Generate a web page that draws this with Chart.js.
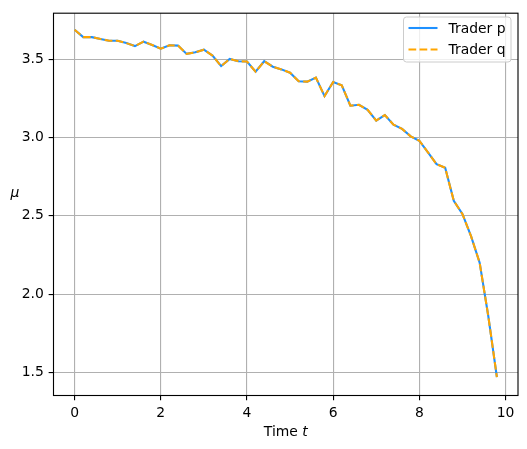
<!DOCTYPE html>
<html>
<head>
<meta charset="utf-8">
<script src="https://cdn.jsdelivr.net/npm/chart.js@4/dist/chart.umd.min.js"></script>
<style>
  html, body { margin: 0; padding: 0; background: #fff; }
  #wrap { width: 527px; height: 449px; }
</style>
</head>
<body>
<div id="wrap"><canvas id="chart" width="527" height="449"></canvas></div>
<script>
// time grid (t)
const times = [0.0, 0.2, 0.4, 0.6, 0.8, 1.0, 1.2, 1.4, 1.6, 1.8,
               2.0, 2.2, 2.4, 2.6, 2.8, 3.0, 3.2, 3.4, 3.6, 3.8,
               4.0, 4.2, 4.4, 4.6, 4.8, 5.0, 5.2, 5.4, 5.6, 5.8,
               6.0, 6.2, 6.4, 6.6, 6.8, 7.0, 7.2, 7.4, 7.6, 7.8,
               8.0, 8.2, 8.4, 8.6, 8.8, 9.0, 9.2, 9.4, 9.6, 9.8];

// mu estimates
const traderP = [3.689, 3.642, 3.642, 3.630, 3.619, 3.619, 3.604, 3.585, 3.613, 3.592,
                 3.568, 3.590, 3.588, 3.535, 3.545, 3.562, 3.524, 3.457, 3.503, 3.488,
                 3.486, 3.421, 3.488, 3.453, 3.436, 3.415, 3.360, 3.358, 3.383, 3.265,
                 3.355, 3.334, 3.204, 3.210, 3.178, 3.109, 3.144, 3.083, 3.056, 3.008,
                 2.980, 2.906, 2.830, 2.807, 2.596, 2.512, 2.370, 2.201, 1.860, 1.470];
const traderQ = [3.689, 3.642, 3.642, 3.630, 3.619, 3.619, 3.604, 3.585, 3.613, 3.592,
                 3.568, 3.590, 3.588, 3.535, 3.545, 3.562, 3.524, 3.457, 3.503, 3.488,
                 3.486, 3.421, 3.488, 3.453, 3.436, 3.415, 3.360, 3.358, 3.383, 3.265,
                 3.355, 3.334, 3.204, 3.210, 3.178, 3.109, 3.144, 3.083, 3.056, 3.008,
                 2.980, 2.906, 2.830, 2.807, 2.596, 2.512, 2.370, 2.201, 1.860, 1.470];

const xTicks = [0, 2, 4, 6, 8, 10];
const yTicks = [1.5, 2.0, 2.5, 3.0, 3.5];
const xRange = [-0.49, 10.29];
const yRange = [1.352, 3.795];

const FONT = 'DejaVu Sans';
const FS = 13.9;
const PT = 100 / 72; // matplotlib points -> px

// matplotlib-like frame, axis labels and legend
const decor = {
    id: 'decor',
    afterDraw(chart) {
        const ctx = chart.ctx;
        const a = chart.chartArea;
        ctx.save();
        ctx.strokeStyle = '#000';
        ctx.lineWidth = 0.8 * PT;
        ctx.strokeRect(a.left, a.top, a.right - a.left, a.bottom - a.top);

        ctx.fillStyle = '#000';
        ctx.textBaseline = 'middle';
        // x label: Time t
        ctx.font = FS + 'px "' + FONT + '"';
        const w1 = ctx.measureText('Time ').width;
        ctx.font = 'italic ' + FS + 'px "' + FONT + '"';
        const w2 = ctx.measureText('t').width;
        const cx = (a.left + a.right) / 2;
        let x0 = cx - (w1 + w2) / 2;
        ctx.textAlign = 'left';
        ctx.font = FS + 'px "' + FONT + '"';
        ctx.fillText('Time ', x0, 432);
        ctx.font = 'italic ' + FS + 'px "' + FONT + '"';
        ctx.fillText('t', x0 + w1, 432);
        // y label: mu
        ctx.textAlign = 'center';
        ctx.fillText('\u03bc', 15, 193);

        // legend
        const bx = 403.5, by = 17, bw = 107.5, bh = 45;
        ctx.beginPath();
        ctx.roundRect(bx, by, bw, bh, 3);
        ctx.fillStyle = 'rgba(255,255,255,0.8)';
        ctx.fill();
        ctx.strokeStyle = '#cccccc';
        ctx.lineWidth = 1;
        ctx.stroke();
        const rows = [28, 49.5];
        chart.data.datasets.forEach((ds, i) => {
            ctx.beginPath();
            ctx.setLineDash(ds.borderDash || []);
            ctx.strokeStyle = ds.borderColor;
            ctx.lineWidth = ds.borderWidth;
            ctx.moveTo(408.5, rows[i]);
            ctx.lineTo(437.5, rows[i]);
            ctx.stroke();
            ctx.setLineDash([]);
            ctx.fillStyle = '#000';
            ctx.textAlign = 'left';
            ctx.font = FS + 'px "' + FONT + '"';
            ctx.fillText(ds.label, 448.5, rows[i] + 1);
        });
        ctx.restore();
    }
};

new Chart(document.getElementById('chart'), {
    type: 'line',
    data: {
        datasets: [
            {
                label: 'Trader p',
                data: times.map((t, i) => ({ x: t, y: traderP[i] })),
                borderColor: '#1E90FF',
                borderWidth: 1.5 * PT,
                pointRadius: 0,
                tension: 0,
                fill: false,
                order: 2
            },
            {
                label: 'Trader q',
                data: times.map((t, i) => ({ x: t, y: traderQ[i] })),
                borderColor: '#FFA500',
                borderWidth: 1.5 * PT,
                borderDash: [5.55 * PT, 2.4 * PT],
                pointRadius: 0,
                tension: 0,
                fill: false,
                order: 1
            }
        ]
    },
    options: {
        responsive: false,
        animation: false,
        events: [],
        layout: { padding: { top: 11, right: 9, left: 0, bottom: 0 } },
        plugins: { legend: { display: false }, tooltip: { enabled: false } },
        scales: {
            x: {
                type: 'linear',
                min: xRange[0],
                max: xRange[1],
                afterBuildTicks: s => { s.ticks = xTicks.map(v => ({ value: v })); },
                afterFit: s => { s.height = 53.5; },
                grid: { color: '#b0b0b0', lineWidth: 0.8 * PT, tickColor: '#000', tickLength: 3.5 * PT, tickWidth: 0.8 * PT },
                border: { display: false },
                ticks: {
                    padding: 3.5 * PT,
                    color: '#000',
                    maxRotation: 0,
                    font: { family: FONT, size: FS },
                    callback: v => String(v)
                }
            },
            y: {
                type: 'linear',
                min: yRange[0],
                max: yRange[1],
                afterBuildTicks: s => { s.ticks = yTicks.map(v => ({ value: v })); },
                afterFit: s => { s.width = 53.5; },
                grid: { color: '#b0b0b0', lineWidth: 0.8 * PT, tickColor: '#000', tickLength: 3.5 * PT, tickWidth: 0.8 * PT },
                border: { display: false },
                ticks: {
                    padding: 3.5 * PT,
                    color: '#000',
                    font: { family: FONT, size: FS },
                    callback: v => v.toFixed(1)
                }
            }
        }
    },
    plugins: [decor]
});
</script>
</body>
</html>
